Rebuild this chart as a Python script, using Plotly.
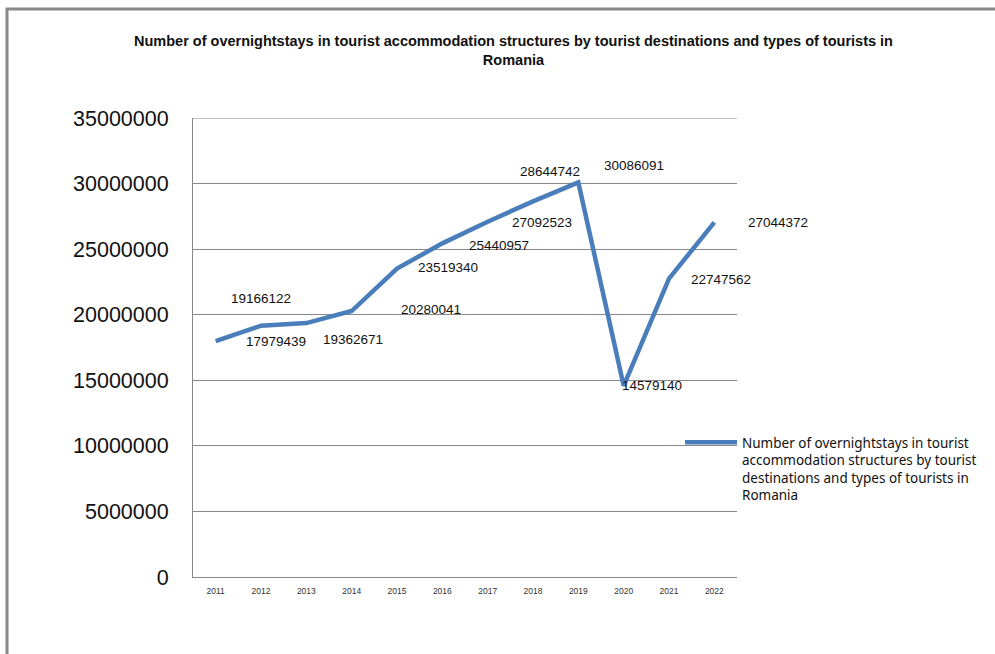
import plotly.graph_objects as go

years = ["2011", "2012", "2013", "2014", "2015", "2016", "2017", "2018", "2019", "2020", "2021", "2022"]
stays = [17979439, 19166122, 19362671, 20280041, 23519340, 25440957, 27092523, 28644742, 30086091, 14579140, 22747562, 27044372]
y_ticks = [0, 5000000, 10000000, 15000000, 20000000, 25000000, 30000000, 35000000]

# label offsets in pixels (style only)
label_dx = [60, 0, 47, 79, 51, 57, 54, 17, 56, 28, 52, 64]
label_dy = [0, 27, -16, 2, 1, -2, -1, 30, 17, 0, -1, 0]

series_name = ("Number of overnightstays in tourist<br>accommodation structures by tourist<br>"
               "destinations and types of tourists in<br>Romania")
title_text = ("<b>Number of overnightstays in tourist accommodation structures by tourist destinations and types of tourists in"
              "<br>Romania</b>")

fig = go.Figure()
fig.add_trace(go.Scatter(
    x=years, y=stays, mode="lines", name=series_name,
    line=dict(color="#4A7EBB", width=4.5),
))

for i, (v, dx, dy) in enumerate(zip(stays, label_dx, label_dy)):
    fig.add_annotation(x=i, y=v, text=str(v), showarrow=False, xshift=dx, yshift=dy,
                       font=dict(family="Liberation Sans, Arial", size=13.5, color="#111"))

fig.add_annotation(xref="paper", yref="paper", x=(513 - 193) / 544, y=1 + (118 - 50) / 459,
                   text=title_text, showarrow=False, xanchor="center", yanchor="middle",
                   font=dict(family="Liberation Sans, Arial", size=14.5, color="#111"))

# top border of plot area at the maximum tick
fig.add_shape(type="line", xref="paper", yref="y", x0=0, x1=1, y0=y_ticks[-1], y1=y_ticks[-1],
              line=dict(color="#888888", width=1))

# outer frame
fig.add_shape(type="rect", xref="paper", yref="paper",
              x0=(7 - 193) / 544, x1=(1100 - 193) / 544,
              y0=(577 - 800) / 459, y1=(577 - 9) / 459,
              line=dict(color="#888888", width=3))

fig.update_layout(
    width=995, height=654,
    margin=dict(l=193, r=258, t=118, b=77),
    paper_bgcolor="white", plot_bgcolor="white",
    showlegend=True,
    legend=dict(x=(680 - 193) / 544, y=(577 - 427) / 459, xanchor="left", yanchor="top",
                valign="top",
                font=dict(family="Noto Sans, Liberation Sans", size=13.5, color="#111"),
                itemwidth=52, bgcolor="rgba(0,0,0,0)"),
    xaxis=dict(type="category", range=[-0.5, 11.5], showgrid=False, showline=True,
               linecolor="#888888", linewidth=1, ticks="", zeroline=False,
               ticklabelstandoff=6,
               tickfont=dict(family="Liberation Sans, Arial", size=8.5, color="#333")),
    yaxis=dict(range=[0, 35000000], tickvals=y_ticks, ticktext=[str(t) for t in y_ticks],
               showgrid=True, gridcolor="#888888", gridwidth=1, showline=True,
               linecolor="#888888", linewidth=1, zeroline=False, ticks="",
               ticklabelstandoff=19,
               tickfont=dict(family="Liberation Sans, Arial", size=21.5, color="#111")),
)

fig.write_html("out.html")
